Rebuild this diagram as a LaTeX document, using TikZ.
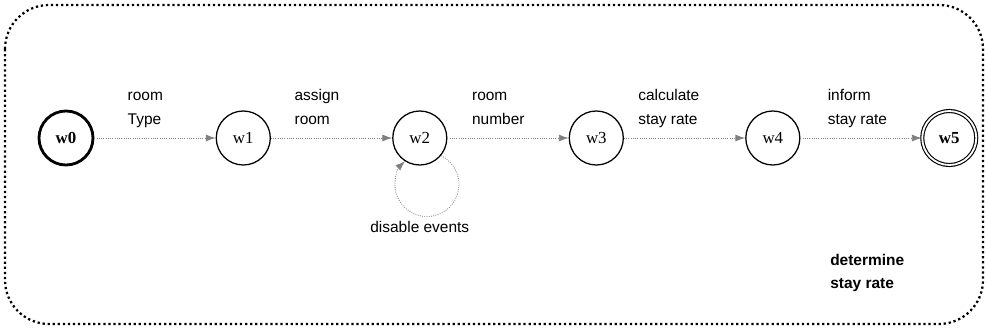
\documentclass[tikz,border=0pt]{standalone}
\usepackage{fontspec}
\setmainfont{Liberation Serif}
\setsansfont{Liberation Sans}
\usetikzlibrary{arrows.meta,positioning}

\begin{document}
\begin{tikzpicture}[
  x=0.025cm, y=-0.025cm,
  node distance=3.03cm,
  wstate/.style={draw, circle, minimum size=1.35cm, inner sep=0pt, line width=0.9pt, font=\fontsize{12}{14}\selectfont},
  wstart/.style={wstate, line width=2pt, font=\fontsize{12}{14}\selectfont\bfseries},
  wfinal/.style={wstate, double, double distance=1.3pt, line width=0.8pt, font=\fontsize{12}{14}\selectfont\bfseries},
  lbl/.style={text=black, font=\sffamily\fontsize{11}{17}\selectfont, align=left, inner sep=1pt, text depth=2.5pt},
  topic/.style={font=\sffamily\bfseries\fontsize{11}{17}\selectfont, align=left, inner sep=0pt},
  arr/.style={-{Latex[length=7pt,width=5pt]}, densely dotted, gray, line width=0.6pt},
  frame/.style={dotted, line width=1.6pt, rounded corners=1.1cm}
]
  \useasboundingbox (0,0) rectangle (987,329);
  \draw[frame] (5,5) rectangle (983,324);

  \node[wstart] (w0) at (66,138) {w0};
  \node[wstate, right=of w0] (w1) {w1};
  \node[wstate, right=of w1] (w2) {w2};
  \node[wstate, right=of w2] (w3) {w3};
  \node[wstate, right=of w3] (w4) {w4};
  \node[wfinal, right=of w4] (w5) {w5};

  \node[lbl, below=1.35cm of w2] (dis) {disable events};
  \node[topic, anchor=west] (goal) at (830,273) {determine\\stay rate};

  \draw[arr] (w0) -- node[lbl, above=6pt, pos=.42] {room\\Type} (w1);
  \draw[arr] (w1) -- node[lbl, above=6pt, pos=.38] {assign\\room} (w2);
  \draw[arr] (w2) -- node[lbl, above=6pt, pos=.42] {room\\number} (w3);
  \draw[arr] (w3) -- node[lbl, above=6pt, pos=.37] {calculate\\stay rate} (w4);
  \draw[arr] (w4) -- node[lbl, above=6pt, pos=.47] {inform\\stay rate} (w5);
  \draw[arr] (w2.-40) arc[start angle=64, end angle=-227, radius=0.8cm];
\end{tikzpicture}
\end{document}
